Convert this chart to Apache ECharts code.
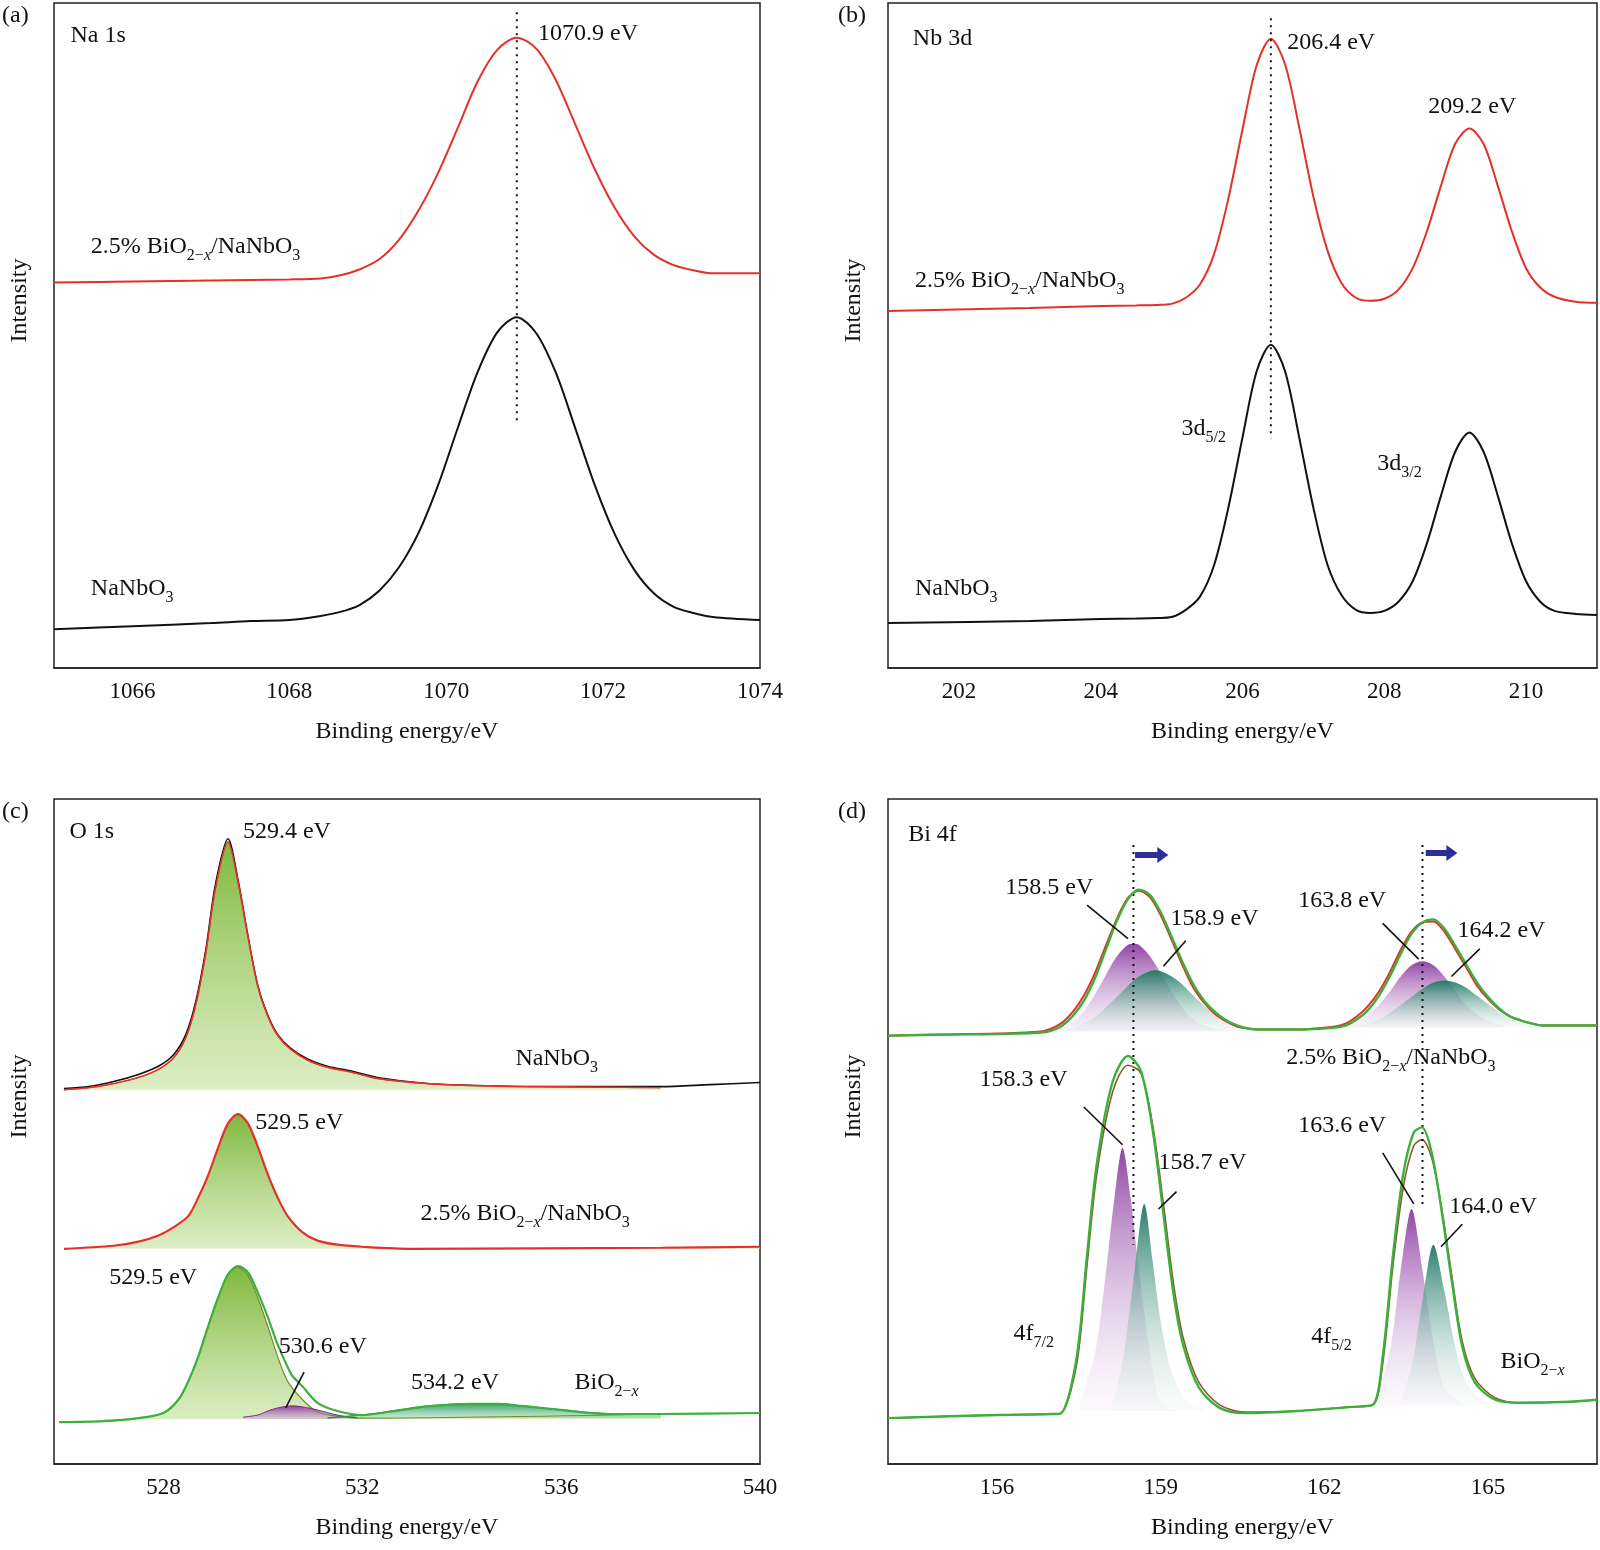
<!DOCTYPE html>
<html><head><meta charset="utf-8">
<script src="https://cdn.jsdelivr.net/npm/echarts@6/dist/echarts.min.js"></script>
<style>html,body{margin:0;padding:0;background:#fff}#c{width:1600px;height:1550px}</style>
</head><body><div id="c"></div>
<script>
// ---------- DATA ----------
// (a) Na 1s
const aX = [1065,1066,1067,1067.5,1068,1068.4,1068.65,1068.9,1069.15,1069.4,1069.65,1069.9,1070.15,1070.4,1070.65,1070.9,1071.15,1071.4,1071.65,1071.9,1072.15,1072.4,1072.65,1072.9,1073.15,1073.4,1074];
const aRed = [378,379,380,380.5,381,382,385,391,401,420,449,486,530,575,606,618,607,576,532,488,451,423,405,395,390,387,387];
const aBlack = [38,41,44,46,47,51,55,62,76,99,133,180,236,290,329,344,328,289,234,178,131,96,73,60,54,50,47];
// (b) Nb 3d
const bX = [201,203,204,204.5,204.8,205,205.2,205.4,205.6,205.8,206.0,206.2,206.4,206.6,206.8,207.0,207.2,207.4,207.6,207.8,208.0,208.2,208.4,208.6,208.8,209.0,209.2,209.4,209.6,209.8,210.0,210.2,210.4,210.7,211];
const bRed = [350,353,355,355.5,356,357,363,376,406,460,528,591,617,592,530,462,409,377,363,360,362,371,392,428,473,514,529,514,473,428,392,373,364,359,358];
const bBlack = [44,46,48,48.5,49,50,57,70,101,157,226,291,317,291,226,157,101,71,57,54,56,65,85,122,169,212,231,212,169,122,85,65,56,53,52];
// (c) O 1s
const cTopX = [526.0,526.5,527.0,527.5,527.9,528.2,528.45,528.65,528.85,529.05,529.3,529.5,529.7,529.9,530.1,530.3,530.55,530.9,531.3,531.8,532.3,533.3,534.3,535.3,538];
const cTopFit = [367,369,373,379,387,398,418,450,500,565,610,571,517,468,439,420,407,396,389,384,378,373,371,370,369];
const cTopRawX = [526.0,526.5,527.0,527.5,527.9,528.2,528.45,528.65,528.85,529.05,529.3,529.5,529.7,529.9,530.1,530.3,530.55,530.9,531.3,531.8,532.3,533.3,534.3,535.3,538,539,540];
const cTopRaw = [368,370,375,382,390,401,421,453,503,569,613,573,518,469,440,421,408,397,390,385,379,373,371,370,370,372,374];
const cMidX = [526,527,527.5,527.9,528.2,528.5,528.7,528.9,529.1,529.3,529.5,529.7,529.9,530.1,530.3,530.5,530.8,531.1,531.5,532,533,538,540];
const cMidFit = [211,214,218,224,232,243,261,283,310,334,343,334,311,284,261,243,227,219,215,213,211,212,213];
const cBotX = [525.9,526.8,527.5,528.0,528.3,528.5,528.7,528.9,529.1,529.3,529.5,529.7,529.9,530.1,530.3,530.5,530.6,530.8,531.1,531.5,532.0,532.5,533.2,533.7,534.2,534.7,535.2,536.0,537.0,538.0,540];
const cBotEnv = [41,42,45,50,63,81,105,135,163,186,194,188,168,144,117,95,86,76,60,52,48,51,56,58,59,59,57,53,49,49,50];
const cMainX = [526.8,527.5,528,528.3,528.5,528.7,528.9,529.1,529.3,529.5,529.7,529.9,530.1,530.3,530.5,530.8,531.1,531.5,532,538];
const cMain = [42,45,50,63,81,105,135,163,186,193,185,163,135,105,81,63,51,47,45,49];
const cPurX = [529.6,529.9,530.1,530.3,530.6,530.8,531.1,531.5,531.9];
const cPur = [46,48,52,55,57,56,53,48,45];
const cBroadX = [531.3,532,532.5,533.2,533.7,534.2,534.7,535.2,536,537,538];
const cBroad = [45,48,51,56,58,59,59,57,53,49,49];
// (d) Bi 4f
const dTopX = [154,155,156,156.8,157.0,157.2,157.4,157.6,157.8,158.0,158.2,158.4,158.6,158.8,159.0,159.2,159.4,159.6,159.8,160.0,160.2,160.4,160.6,160.8,161.5,162.2,162.4,162.6,162.8,163.0,163.2,163.4,163.6,163.8,164.0,164.2,164.4,164.6,164.8,165.0,165.2,165.4,165.6,165.8,166.0,167];
const dTopEnv = [420,421,421.5,423,425,430,440,455,477,505,533,554,563,558,541,517,492,470,454,443,435,430,427,426,426,428,430,436,445,459,478,500,520,531,534,525,508,490,472,458,447,439,435,432,430,430];
const dTopRaw = [420,421,422,424,427,433,444,460,482,509,535,555,562,556,538,514,489,467,452,441,434,429,427,426,426,429,432,439,449,463,482,504,522,531,532,522,505,487,469,456,446,439,435,432,430,430];
const dP1X = [156.9,157.2,157.4,157.6,157.8,158.0,158.2,158.4,158.5,158.6,158.8,159.0,159.2,159.4,159.6,159.8,160.0,160.3];
const dP1 = [423,428,434,445,461,480,498,509,510,509,498,481,463,447,436,430,427,425];
const dT1X = [157.2,157.4,157.6,157.8,158.0,158.2,158.4,158.6,158.8,158.9,159.0,159.2,159.4,159.6,159.8,160.0,160.2,160.4,160.6,160.8];
const dT1 = [425,427,432,438,448,458,469,478,483,484,483,478,470,459,449,441,434,430,427,426];
const dP2X = [162.3,162.6,162.8,163.0,163.2,163.4,163.6,163.8,164.0,164.2,164.4,164.6,164.8,165.0,165.3];
const dP2 = [428,433,440,450,463,478,489,493,489,478,464,450,441,434,430];
const dT2X = [162.6,162.8,163.0,163.2,163.4,163.6,163.8,164.0,164.2,164.4,164.6,164.8,165.0,165.2,165.4,165.6,165.8,166.0];
const dT2 = [430,432,436,442,450,458,466,472,474,472,467,459,451,443,437,433,431,430];
const dBotX = [154,156,157.0,157.18,157.46,157.65,157.83,158.12,158.4,158.64,158.86,159.05,159.24,159.42,159.7,160.08,160.55,161.5,162.5,162.89,163.07,163.26,163.45,163.64,163.79,163.97,164.16,164.35,164.53,164.76,165.13,165.6,166.5,167];
const dBotEnv = [45,48,49,50,105,205,295,375,400,385,325,245,165,115,75,55,50,52,56,58,105,205,285,325,330,305,245,175,115,80,63,60,61,63];
const dBotRaw = [45,48,49,50,98,195,285,365,391,383,330,255,175,122,80,58,51,52,56,58,98,195,272,312,318,300,248,180,120,84,65,60,61,63];
const dBP1X = [157.5,157.8,158.0,158.15,158.3,158.45,158.6,158.8,159.0,159.3];
const dBP1 = [55,110,190,260,310,260,190,110,60,52];
const dBT1X = [158.1,158.3,158.5,158.7,158.85,159.0,159.2,159.5,159.8];
const dBT1 = [55,100,180,255,200,140,90,60,54];
const dBP2X = [162.9,163.2,163.4,163.6,163.8,164.0,164.2,164.5];
const dBP2 = [58,110,190,250,190,120,75,60];
const dBT2X = [163.4,163.6,163.8,164.0,164.2,164.4,164.6,164.9,165.2];
const dBT2 = [60,95,160,215,170,115,80,62,59];
// tick labels
const aTicks = [1066,1068,1070,1072,1074];
const bTicks = [202,204,206,208,210];
const cTicks = [528,532,536,540];
const dTicks = [156,159,162,165];

// ---------- CHART ----------
const FONT = 'Liberation Serif';
const pairs = (xs, ys) => xs.map((x, i) => [x, ys[i]]);
const chart = echarts.init(document.getElementById('c'), null, {renderer: 'canvas'});
const grids = [
  {left: 54, top: 3, width: 706, height: 665},
  {left: 888, top: 3, width: 709, height: 665},
  {left: 54, top: 799, width: 706, height: 665},
  {left: 888, top: 799, width: 709, height: 665}
].map(g => Object.assign(g, {show: true, borderColor: '#222', borderWidth: 1.5, containLabel: false}));
const ranges = [[1065, 1074, aTicks], [201, 211, bTicks], [525.8, 540, cTicks], [154, 167, dTicks]];
const xAxes = ranges.map((r, i) => ({
  type: 'value', gridIndex: i, min: r[0], max: r[1],
  name: 'Binding energy/eV', nameLocation: 'middle', nameGap: 52,
  nameTextStyle: {fontFamily: FONT, fontSize: 24, color: '#111'},
  axisLine: {lineStyle: {color: '#222', width: 1.5}}, axisTick: {show: false},
  splitLine: {show: false},
  axisLabel: {fontFamily: FONT, fontSize: 23, color: '#111', margin: 12, customValues: r[2], formatter: v => String(v)}
}));
const yAxes = [0, 1, 2, 3].map(i => ({
  type: 'value', gridIndex: i, min: 0, max: 652,
  name: 'Intensity', nameLocation: 'middle', nameGap: 22, nameRotate: 90,
  nameTextStyle: {fontFamily: FONT, fontSize: 24, color: '#111', padding: [0, 0, 0, 70]},
  axisLine: {show: false}, axisTick: {show: false}, axisLabel: {show: false}, splitLine: {show: false}
}));
function line(g, xs, ys, color, width, extra) {
  return Object.assign({
    type: 'line', xAxisIndex: g, yAxisIndex: g, data: pairs(xs, ys), symbol: 'none',
    smooth: 0.3, lineStyle: {color: color, width: width}, silent: true, z: 3
  }, extra || {});
}
function grad(top, bottom) {
  return new echarts.graphic.LinearGradient(0, 0, 0, 1, [{offset: 0, color: top}, {offset: 1, color: bottom}]);
}
function area(g, xs, ys, origin, top, bottom, lineColor, lw) {
  return line(g, xs, ys, lineColor, lw, {areaStyle: {origin: origin, color: grad(top, bottom), opacity: 1}, z: 2});
}
function dotted(g, x, y1, y2) {
  return line(g, [x, x], [y1, y2], '#111', 2, {smooth: false, lineStyle: {color: '#111', width: 2, type: [2, 5]}, z: 4});
}
const GREEN = '#3cb03c', RED = '#e5302a', BLACK = '#111';
const series = [
  line(0, aX, aRed, RED, 2), line(0, aX, aBlack, BLACK, 2), dotted(0, 1070.9, 643, 240),
  line(1, bX, bRed, RED, 2), line(1, bX, bBlack, BLACK, 2), dotted(1, 206.4, 637, 225),
  area(2, cTopX, cTopFit, 367, 'rgba(120,180,50,0.95)', 'rgba(205,230,170,0.7)', RED, 1.2),
  line(2, cTopRawX, cTopRaw, BLACK, 1.6, {z: 1}),
  line(2, cTopX, cTopFit, RED, 1.4, {z: 4}),
  area(2, cMidX, cMidFit, 211, 'rgba(120,180,50,0.95)', 'rgba(205,230,170,0.7)', RED, 2.2),
  area(2, cMainX, cMain, 44, 'rgba(120,180,50,0.95)', 'rgba(205,230,170,0.7)', '#6f8f2a', 1.2),
  area(2, cPurX, cPur, 44, 'rgba(140,50,160,0.95)', 'rgba(210,170,220,0.5)', '#7a2f8a', 1),
  area(2, cBroadX, cBroad, 45, 'rgba(40,150,100,0.9)', 'rgba(150,210,170,0.5)', '#2f8f55', 1.5),
  line(2, cBotX, cBotEnv, GREEN, 2.2, {z: 5}),
  line(3, dTopX, dTopRaw, RED, 2, {z: 4}),
  line(3, dTopX, dTopEnv, GREEN, 2.4, {z: 5}),
  area(3, dP1X, dP1, 424, 'rgba(140,60,160,0.95)', 'rgba(235,215,240,0.3)', 'rgba(0,0,0,0)', 0),
  area(3, dT1X, dT1, 424, 'rgba(30,120,100,0.95)', 'rgba(225,240,235,0.3)', 'rgba(0,0,0,0)', 0),
  area(3, dP2X, dP2, 428, 'rgba(140,60,160,0.95)', 'rgba(235,215,240,0.3)', 'rgba(0,0,0,0)', 0),
  area(3, dT2X, dT2, 428, 'rgba(30,120,100,0.95)', 'rgba(225,240,235,0.3)', 'rgba(0,0,0,0)', 0),
  area(3, dBP1X, dBP1, 52, 'rgba(140,60,160,0.95)', 'rgba(240,225,245,0.2)', 'rgba(0,0,0,0)', 0),
  area(3, dBT1X, dBT1, 52, 'rgba(30,120,100,0.95)', 'rgba(230,242,238,0.2)', 'rgba(0,0,0,0)', 0),
  area(3, dBP2X, dBP2, 58, 'rgba(140,60,160,0.95)', 'rgba(240,225,245,0.2)', 'rgba(0,0,0,0)', 0),
  area(3, dBT2X, dBT2, 58, 'rgba(30,120,100,0.95)', 'rgba(230,242,238,0.2)', 'rgba(0,0,0,0)', 0),
  line(3, dBotX, dBotRaw, '#8a5a2a', 1.6, {z: 4}),
  line(3, dBotX, dBotEnv, GREEN, 2.4, {z: 5}),
  dotted(3, 158.5, 607, 215), dotted(3, 163.8, 607, 250)
];
chart.setOption({animation: false, backgroundColor: '#fff', grid: grids, xAxis: xAxes, yAxis: yAxes, series: series});

// ---------- ANNOTATIONS (data coordinates) ----------
const BIO = '2.5% BiO{s|2−}{si|x}/NaNbO{s|3}';
const texts = [
  [0, 1065.21, 620, 'Na 1s'], [0, 1071.17, 622, '1070.9 eV'], [0, 1065.47, 413, BIO], [0, 1065.47, 78, 'NaNbO{s|3}'],
  [1, 201.35, 617, 'Nb 3d'], [1, 206.63, 613, '206.4 eV'], [1, 208.62, 550, '209.2 eV'], [1, 201.38, 380, BIO],
  [1, 205.14, 235, '3d{s|5/2}'], [1, 207.9, 200, '3d{s|3/2}'], [1, 201.38, 78, 'NaNbO{s|3}'],
  [2, 526.11, 620, 'O 1s'], [2, 529.6, 620, '529.4 eV'], [2, 535.08, 397, 'NaNbO{s|3}'], [2, 529.85, 335, '529.5 eV'],
  [2, 533.17, 245, BIO], [2, 526.91, 183, '529.5 eV'], [2, 530.32, 115, '530.6 eV'], [2, 532.98, 80, '534.2 eV'],
  [2, 536.27, 80, 'BiO{s|2−}{si|x}'],
  [3, 154.37, 617, 'Bi 4f'], [3, 156.15, 565, '158.5 eV'], [3, 159.18, 535, '158.9 eV'], [3, 161.52, 552, '163.8 eV'],
  [3, 164.44, 523, '164.2 eV'], [3, 161.3, 398, BIO], [3, 155.68, 377, '158.3 eV'], [3, 158.96, 295, '158.7 eV'],
  [3, 161.52, 332, '163.6 eV'], [3, 164.29, 252, '164.0 eV'], [3, 156.3, 128, '4f{s|7/2}'], [3, 161.76, 125, '4f{s|5/2}'],
  [3, 165.23, 100, 'BiO{s|2−}{si|x}']
];
const leaders = [
  [2, 530.83, 90, 530.46, 55],
  [3, 157.65, 548, 158.4, 515], [3, 159.46, 513, 159.05, 488], [3, 163.07, 530, 163.73, 495], [3, 164.85, 505, 164.33, 478],
  [3, 157.59, 350, 158.3, 313], [3, 159.29, 267, 158.96, 250], [3, 163.07, 305, 163.64, 255], [3, 164.53, 235, 164.14, 213]
];
const arrows = [[3, 158.53, 159.14, 597], [3, 163.86, 164.44, 599]];
const rich = {
  s: {fontFamily: FONT, fontSize: 16, lineHeight: 34, verticalAlign: 'bottom', fill: '#111'},
  si: {fontFamily: FONT, fontSize: 16, lineHeight: 34, verticalAlign: 'bottom', fontStyle: 'italic', fill: '#111'}
};
const P = (g, x, y) => chart.convertToPixel({gridIndex: g}, [x, y]);
const gr = [];
texts.forEach(t => {
  const p = P(t[0], t[1], t[2]);
  gr.push({type: 'text', x: p[0], y: p[1], z: 10, style: {text: t[3], rich: rich, fontFamily: FONT, fontSize: 24, fill: '#111', verticalAlign: 'middle', align: 'left'}});
});
leaders.forEach(l => {
  const p1 = P(l[0], l[1], l[2]), p2 = P(l[0], l[3], l[4]);
  gr.push({type: 'line', z: 10, shape: {x1: p1[0], y1: p1[1], x2: p2[0], y2: p2[1]}, style: {stroke: '#111', lineWidth: 1.6}});
});
arrows.forEach(a => {
  const p1 = P(a[0], a[1], a[3]), p2 = P(a[0], a[2], a[3]);
  const x0 = p1[0], x1 = p2[0], y = p1[1];
  gr.push({type: 'polygon', z: 10, shape: {points: [[x0, y - 3], [x1 - 11, y - 3], [x1 - 11, y - 8], [x1, y], [x1 - 11, y + 8], [x1 - 11, y + 3], [x0, y + 3]]}, style: {fill: '#2e2e9a'}});
});
[['(a)', 2, 16], ['(b)', 838, 16], ['(c)', 2, 812], ['(d)', 838, 812]].forEach(t => {
  gr.push({type: 'text', x: t[1], y: t[2], style: {text: t[0], fontFamily: FONT, fontSize: 24, fill: '#111', verticalAlign: 'middle'}});
});
chart.setOption({graphic: gr});
</script></body></html>
